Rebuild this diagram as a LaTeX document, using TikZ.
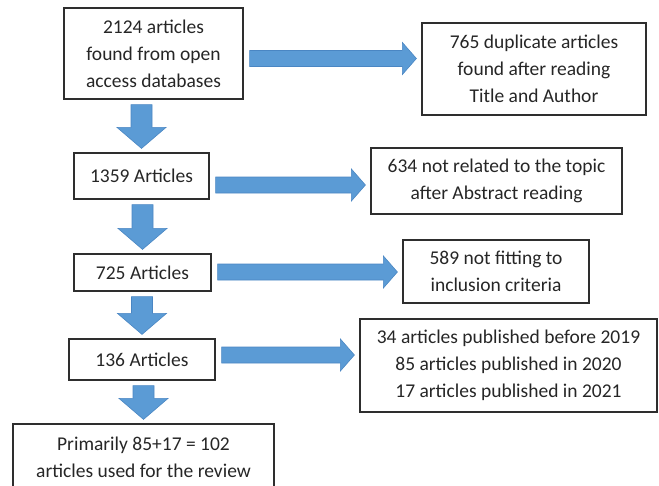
\documentclass[tikz,border=0pt]{standalone}
\usepackage{fontspec}
\setmainfont{Carlito}
\usetikzlibrary{calc}

\definecolor{arrowblue}{HTML}{5B9BD5}
\definecolor{arrowedge}{HTML}{4A86C3}
\definecolor{boxline}{HTML}{2E2E2E}

% Block arrow to the right: from node, to node, height of its axis
\newcommand{\rightblock}[3]{%
  \filldraw[blockarrow] ($(#1.east |- 0,#3)+(6,-8)$) -- ($(#2.west |- 0,#3)+(-19,-8)$)
    -- ++(0,-8) -- ($(#2.west |- 0,#3)+(-5,0)$) -- ($(#2.west |- 0,#3)+(-19,16)$)
    -- ++(0,-8) -- ($(#1.east |- 0,#3)+(6,8)$) -- cycle;}
% Block arrow downwards: from node, to node
\newcommand{\downblock}[2]{%
  \filldraw[blockarrow] ($(#2.north |- #1.south)+(-10.5,5)$) -- ($(#2.north)+(-10.5,-25)$)
    -- ++(-14,0) -- ($(#2.north)+(0,-4)$) -- ($(#2.north)+(24.5,-25)$)
    -- ++(-14,0) -- ($(#2.north |- #1.south)+(10.5,5)$) -- cycle;}

\begin{document}
\begin{tikzpicture}[x=1pt,y=-1pt,
    box/.style={draw=boxline, line width=1.2pt, align=center, text=black!85,
      font=\fontsize{19.5}{27}\selectfont, inner sep=2pt},
    blockarrow/.style={fill=arrowblue, draw=arrowedge, line width=0.6pt}]
\useasboundingbox (0,0) rectangle (659,485);
% Main column
\node[box, minimum width=179pt, minimum height=91pt] (src) at (153.5,53.5)
  {2124 articles\\found from open\\access databases};
\node[box, minimum width=135pt, minimum height=46pt] (n1359) at (141.5,176) {1359 Articles};
\node[box, minimum width=137pt, minimum height=37pt] (n725) at (142.5,272.5) {725 Articles};
\node[box, minimum width=146pt, minimum height=41pt] (n136) at (142,359.5) {136 Articles};
\node[box, minimum width=261pt, minimum height=66pt] (final) at (143.5,457)
  {Primarily 85+17 = 102\\articles used for the review};
% Excluded articles
\node[box, minimum width=224pt, minimum height=92pt] (dup) at (534,69)
  {765 duplicate articles\\found after reading\\Title and Author};
\node[box, minimum width=251pt, minimum height=66pt] (topic) at (496.5,181)
  {634 not related to the topic\\after Abstract reading};
\node[box, minimum width=186pt, minimum height=63pt] (crit) at (496,271.5)
  {589 not fitting to\\inclusion criteria};
\node[box, minimum width=297pt, minimum height=93pt] (years) at (508.5,365.5)
  {34 articles published before 2019\\85 articles published in 2020\\17 articles published in 2021};
% Arrows down
\downblock{src}{n1359}
\downblock{n1359}{n725}
\downblock{n725}{n136}
\downblock{n136}{final}
% Arrows to the right
\rightblock{src}{dup}{58.5}
\rightblock{n1359}{topic}{185}
\rightblock{n725}{crit}{272}
\rightblock{n136}{years}{355}
\end{tikzpicture}
\end{document}
